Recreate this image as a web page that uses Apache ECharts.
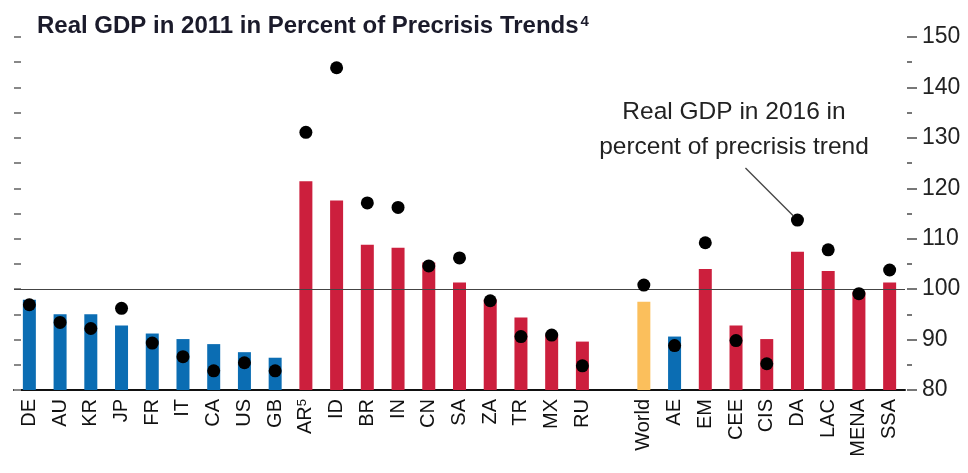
<!DOCTYPE html>
<html>
<head>
<meta charset="utf-8">
<script src="https://cdn.jsdelivr.net/npm/echarts@6/dist/echarts.min.js"></script>
<style>
  html, body { margin: 0; padding: 0; background: #fff; }
  #main { width: 968px; height: 473px; }
</style>
</head>
<body>
<div id="main"></div>
<script>
// categories ('' is the empty slot before World)
const categories = ['DE', 'AU', 'KR', 'JP', 'FR', 'IT', 'CA', 'US', 'GB',
  'AR', 'ID', 'BR', 'IN', 'CN', 'SA', 'ZA', 'TR', 'MX', 'RU', '',
  'World', 'AE', 'EM', 'CEE', 'CIS', 'DA', 'LAC', 'MENA', 'SSA'];
// ae = advanced economy, em = emerging, world
const groups = ['ae', 'ae', 'ae', 'ae', 'ae', 'ae', 'ae', 'ae', 'ae',
  'em', 'em', 'em', 'em', 'em', 'em', 'em', 'em', 'em', 'em', '',
  'world', 'ae', 'em', 'em', 'em', 'em', 'em', 'em', 'em'];
// real GDP in 2011, percent of precrisis trend (bars)
const gdp2011 = [97.9, 95.0, 95.0, 92.8, 91.2, 90.1, 89.1, 87.5, 86.4,
  121.4, 117.6, 108.8, 108.2, 105.3, 101.3, 98.0, 94.4, 91.0, 89.6, '-',
  97.5, 90.6, 104.0, 92.8, 90.1, 107.4, 103.6, 99.5, 101.3];
// real GDP in 2016, percent of precrisis trend (dots)
const gdp2016 = [96.9, 93.4, 92.2, 96.2, 89.3, 86.6, 83.8, 85.4, 83.8,
  131.1, 143.9, 117.1, 116.2, 104.6, 106.2, 97.7, 90.6, 90.9, 84.8, '-',
  100.8, 88.8, 109.2, 89.8, 85.2, 113.7, 107.8, 99.1, 103.8];
const superscripts = { AR: '5' };

const colors = { ae: '#0b6db3', em: '#cc1f3d', world: '#fbbf5c' };
const sans = '"Liberation Sans", Arial, sans-serif';
const chart = echarts.init(document.getElementById('main'));

const option = {
  animation: false,
  backgroundColor: '#fff',
  title: {
    text: '{t|Real GDP in 2011 in Percent of Precrisis Trends}{s|4}',
    left: 32,
    top: 9,
    textStyle: {
      rich: {
        t: { fontFamily: sans, fontWeight: 'bold', fontSize: 24, color: '#1b1b2b' },
        s: { fontFamily: sans, fontWeight: 'bold', fontSize: 15, color: '#1b1b2b', verticalAlign: 'top', padding: [0, 0, 10, 2] }
      }
    }
  },
  grid: { left: 14, right: 63, top: 37, bottom: 83 },
  xAxis: {
    type: 'category',
    data: categories,
    axisLine: { lineStyle: { color: '#111', width: 2 } },
    axisTick: { show: false },
    axisLabel: {
      interval: 0,
      rotate: 90,
      margin: 9,
      color: '#111',
      formatter: function (v) {
        return superscripts[v] ? '{n|' + v + '}{s|' + superscripts[v] + '}' : '{n|' + v + '}';
      },
      rich: {
        n: { fontFamily: sans, fontSize: 20, color: '#111' },
        s: { fontFamily: sans, fontSize: 13, color: '#111', verticalAlign: 'top' }
      }
    }
  },
  yAxis: [
    {
      type: 'value',
      position: 'right',
      min: 80,
      max: 150,
      interval: 10,
      offset: 2,
      axisLine: { show: false },
      axisTick: { show: true, inside: false, length: 10, lineStyle: { color: '#777', width: 2 } },
      minorTick: { show: true, splitNumber: 2, length: 5, lineStyle: { color: '#777', width: 2 } },
      splitLine: { show: false },
      axisLabel: { margin: 15, fontFamily: sans, fontSize: 23, color: '#222' }
    },
    {
      type: 'value',
      position: 'left',
      min: 80,
      max: 150,
      interval: 5,
      axisLine: { show: false },
      axisTick: { show: true, inside: true, length: 7, lineStyle: { color: '#888', width: 2 } },
      splitLine: { show: false },
      axisLabel: { show: false }
    }
  ],
  series: [
    {
      name: 'Real GDP in 2011',
      type: 'bar',
      barWidth: 13,
      data: gdp2011.map(function (v, i) {
        return { value: v, itemStyle: { color: colors[groups[i]] || '#000' } };
      }),
      markLine: {
        silent: true,
        symbol: 'none',
        label: { show: false },
        lineStyle: { color: '#444', width: 1, type: 'solid' },
        data: [{ yAxis: 100 }]
      }
    },
    {
      name: 'Real GDP in 2016',
      type: 'scatter',
      symbolSize: 13,
      itemStyle: { color: '#000', opacity: 1 },
      data: gdp2016,
      z: 5
    }
  ]
};

chart.setOption(option);

// callout pointing at the DA dot
const daIdx = categories.indexOf('DA');
const dot = chart.convertToPixel({ seriesIndex: 1 }, [daIdx, gdp2016[daIdx]]);
chart.setOption({
  graphic: [
    {
      type: 'text',
      x: 734,
      y: 95,
      style: {
        text: 'Real GDP in 2016 in\npercent of precrisis trend',
        align: 'center',
        verticalAlign: 'top',
        fontFamily: sans,
        fontSize: 24.5,
        lineHeight: 35,
        fill: '#222'
      }
    },
    {
      type: 'line',
      shape: { x1: dot[0] - 52, y1: dot[1] - 52, x2: dot[0] - 4, y2: dot[1] - 4 },
      style: { stroke: '#444', lineWidth: 1.3 },
      z: 10
    }
  ]
});
</script>
</body>
</html>
